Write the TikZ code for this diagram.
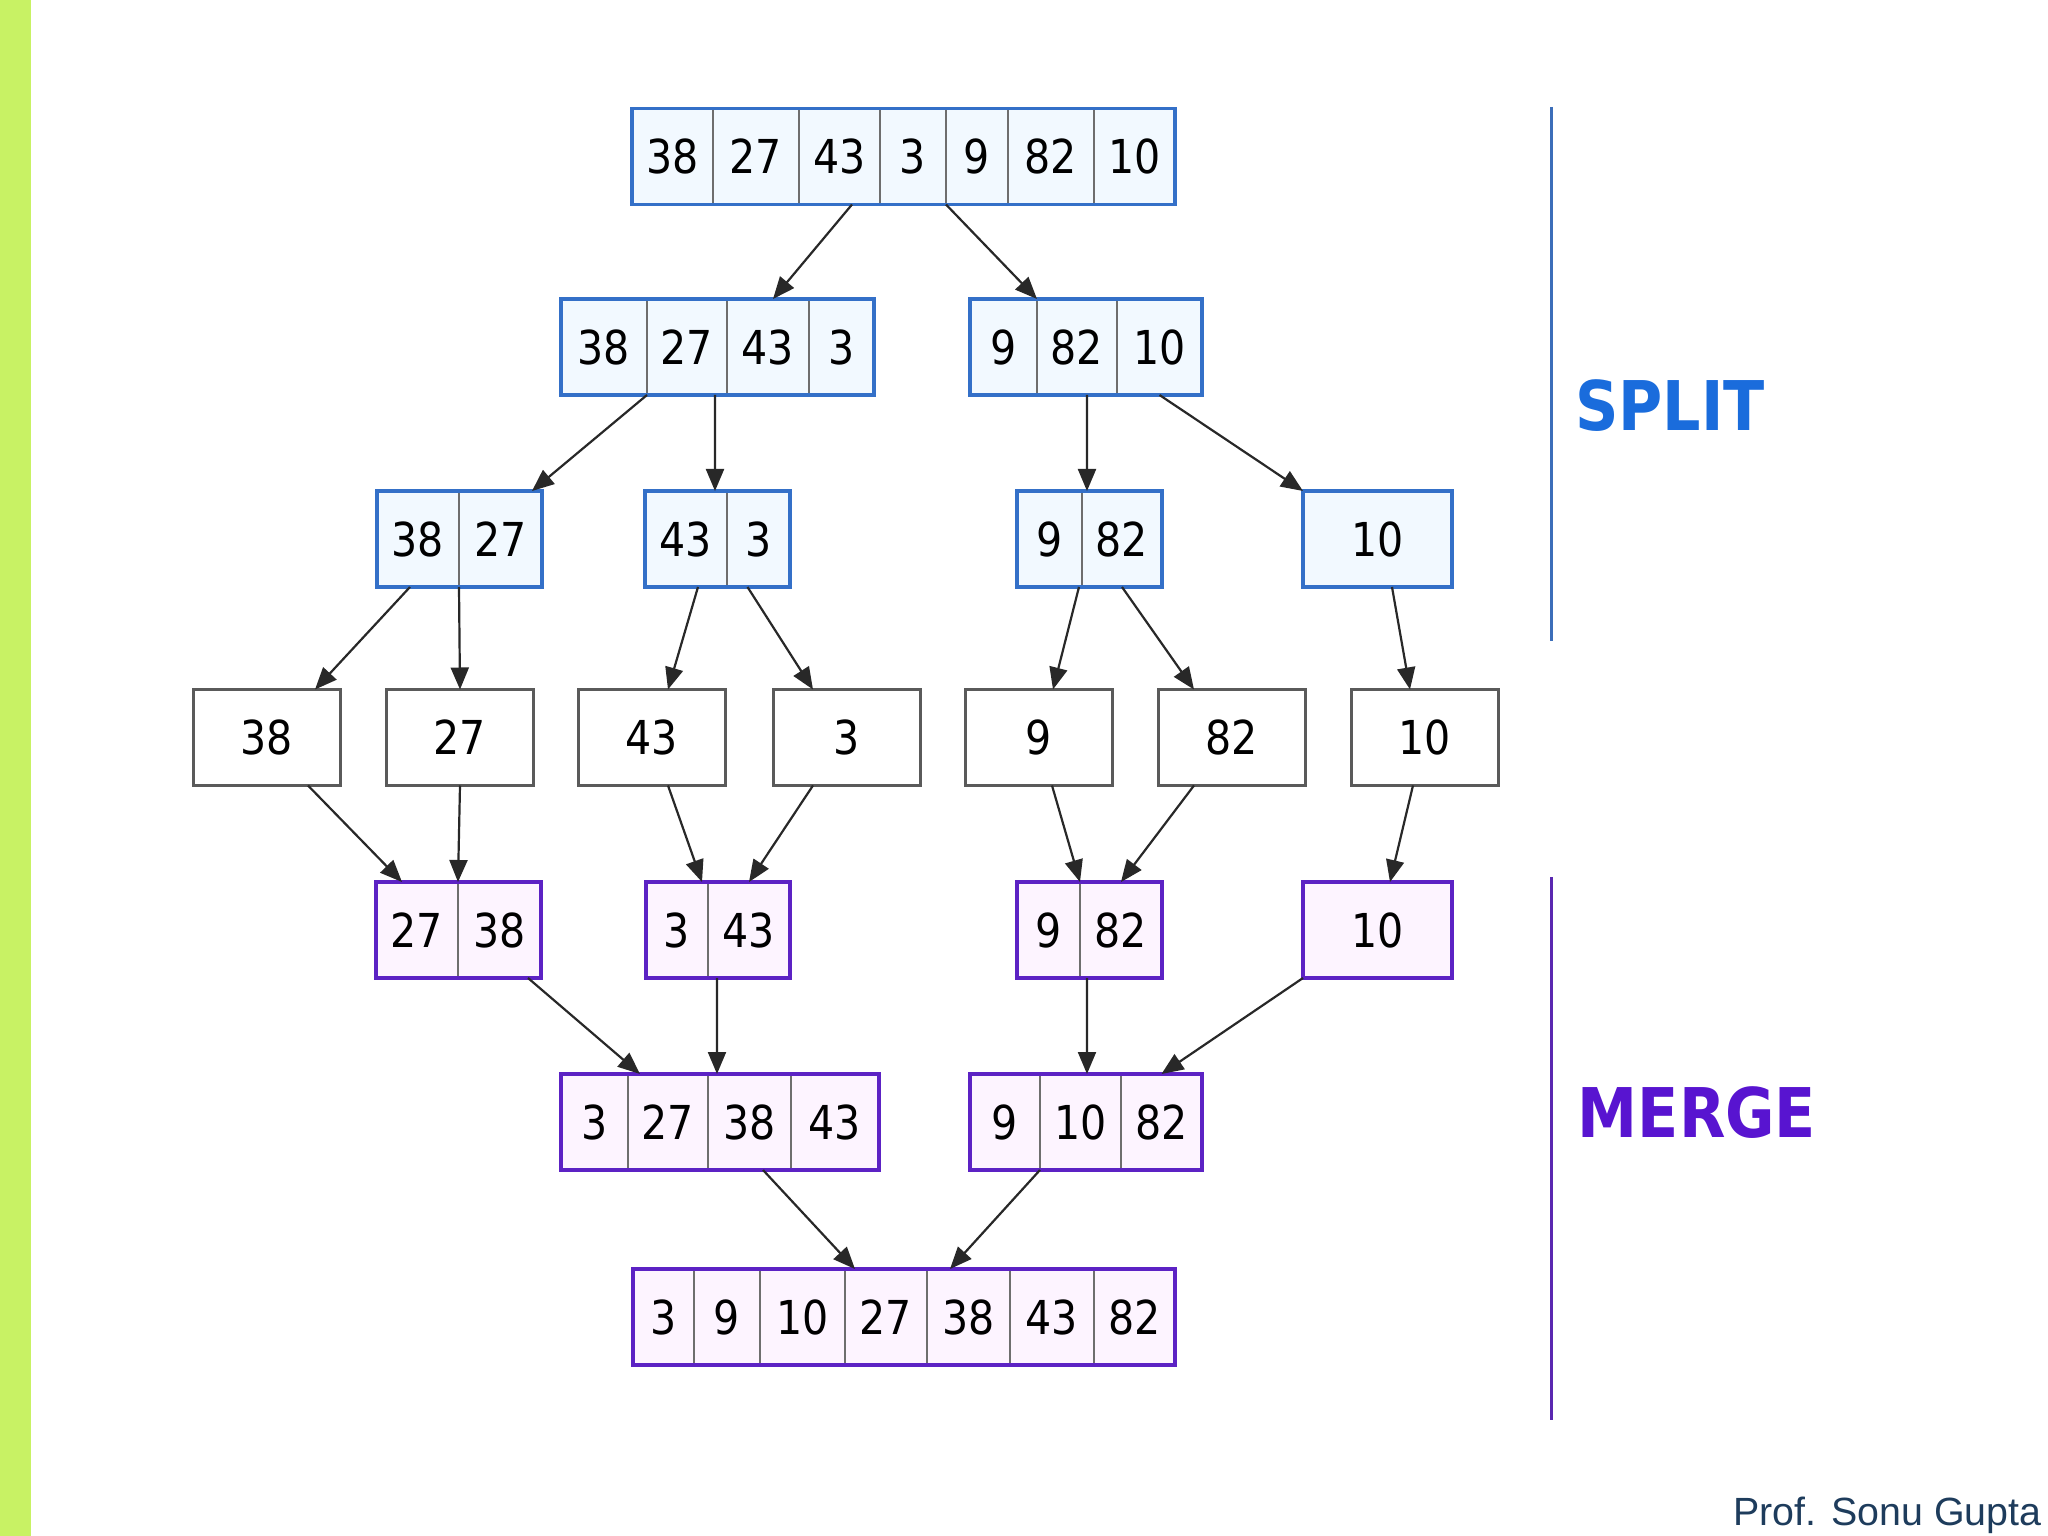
\documentclass[tikz,border=0pt]{standalone}
\usepackage{fontspec}
\usepackage{tikz}
\usetikzlibrary{positioning,arrows.meta}

\newfontfamily\cellfont{DejaVu Sans}[FakeStretch=0.88]
\newfontfamily\stagefont{DejaVu Sans}[FakeStretch=0.88]
\newfontfamily\authorfont{Liberation Sans}

\definecolor{splitblue}{RGB}{52,112,200}
\definecolor{mergepurple}{RGB}{92,34,196}
\definecolor{splitfill}{RGB}{242,249,255}
\definecolor{mergefill}{RGB}{253,244,255}
\definecolor{divgray}{RGB}{110,110,110}
\definecolor{leafgray}{RGB}{90,90,90}
\definecolor{arrowgray}{RGB}{40,40,40}
\definecolor{splittext}{RGB}{26,108,220}
\definecolor{mergetext}{RGB}{88,20,208}
\definecolor{splitline}{RGB}{60,110,185}
\definecolor{mergeline}{RGB}{90,40,176}
\definecolor{barcolor}{RGB}{200,242,100}
\definecolor{authorcolor}{RGB}{30,60,92}

\tikzset{
	cell/.style={draw=divgray, line width=0.2mm, minimum height=0.96cm, inner sep=0pt, outer sep=0pt,
		font=\cellfont\fontsize{13.3}{16}\selectfont},
	splitcell/.style={cell, fill=splitfill},
	mergecell/.style={cell, fill=mergefill},
	leafcell/.style={cell, draw=leafgray, line width=0.3mm, fill=white, minimum width=1.47cm},
	splitframe/.style={draw=splitblue, line width=0.38mm},
	mergeframe/.style={draw=mergepurple, line width=0.38mm},
	arr/.style={draw=arrowgray, line width=0.22mm, -{Triangle[length=2.2mm,width=1.8mm]}},
	stage/.style={font=\stagefont\bfseries\fontsize{19.5}{23}\selectfont},
}

\begin{document}
\begin{tikzpicture}
	\useasboundingbox (0,0) rectangle (20.48,-15.36);
	%left bar
	\fill[barcolor] (0,0) rectangle (0.31,-15.36);

	%row 1
	\node[splitcell, minimum width=0.81cm] (a38) at (6.725,-1.565) {38};
	\node[splitcell, minimum width=0.86cm, right=0pt of a38] (a27) {27};
	\node[splitcell, minimum width=0.81cm, right=0pt of a27] (a43) {43};
	\node[splitcell, minimum width=0.66cm, right=0pt of a43] (a3)  {3};
	\node[splitcell, minimum width=0.62cm, right=0pt of a3]  (a9)  {9};
	\node[splitcell, minimum width=0.86cm, right=0pt of a9]  (a82) {82};
	\node[splitcell, minimum width=0.81cm, right=0pt of a82] (a10) {10};

	%row 2
	\node[splitcell, minimum width=0.86cm] (b38) at (6.04,-3.47) {38};
	\node[splitcell, minimum width=0.80cm, right=0pt of b38] (b27) {27};
	\node[splitcell, minimum width=0.82cm, right=0pt of b27] (b43) {43};
	\node[splitcell, minimum width=0.65cm, right=0pt of b43] (b3)  {3};
	%
	\node[splitcell, minimum width=0.67cm] (b9) at (10.035,-3.47) {9};
	\node[splitcell, minimum width=0.80cm, right=0pt of b9]  (b82) {82};
	\node[splitcell, minimum width=0.85cm, right=0pt of b82] (b10) {10};

	%row 3
	\node[splitcell, minimum width=0.82cm] (c38) at (4.18,-5.39) {38};
	\node[splitcell, minimum width=0.83cm, right=0pt of c38] (c27) {27};
	%
	\node[splitcell, minimum width=0.82cm] (c43) at (6.86,-5.39) {43};
	\node[splitcell, minimum width=0.63cm, right=0pt of c43] (c3) {3};
	%
	\node[splitcell, minimum width=0.65cm] (c9) at (10.495,-5.39) {9};
	\node[splitcell, minimum width=0.80cm, right=0pt of c9] (c82) {82};
	%
	\node[splitcell, minimum width=1.49cm] (c10) at (13.775,-5.39) {10};

	%row 4
	\node[leafcell] (d38) at (2.665,-7.375)  {38};
	\node[leafcell] (d27) at (4.60,-7.375)   {27};
	\node[leafcell] (d43) at (6.515,-7.375)  {43};
	\node[leafcell] (d3)  at (8.465,-7.375)  {3};
	\node[leafcell] (d9)  at (10.385,-7.375) {9};
	\node[leafcell] (d82) at (12.315,-7.375) {82};
	\node[leafcell] (d10) at (14.25,-7.375)  {10};

	%row 5
	\node[mergecell, minimum width=0.82cm] (e27) at (4.17,-9.30) {27};
	\node[mergecell, minimum width=0.83cm, right=0pt of e27] (e38) {38};
	%
	\node[mergecell, minimum width=0.62cm] (e3) at (6.77,-9.30) {3};
	\node[mergecell, minimum width=0.82cm, right=0pt of e3] (e43) {43};
	%
	\node[mergecell, minimum width=0.63cm] (e9) at (10.485,-9.30) {9};
	\node[mergecell, minimum width=0.82cm, right=0pt of e9] (e82) {82};
	%
	\node[mergecell, minimum width=1.49cm] (e10) at (13.775,-9.30) {10};

	%row 6
	\node[mergecell, minimum width=0.67cm] (f3) at (5.945,-11.22) {3};
	\node[mergecell, minimum width=0.80cm, right=0pt of f3]  (f27) {27};
	\node[mergecell, minimum width=0.83cm, right=0pt of f27] (f38) {38};
	\node[mergecell, minimum width=0.88cm, right=0pt of f38] (f43) {43};
	%
	\node[mergecell, minimum width=0.70cm] (f9) at (10.05,-11.22) {9};
	\node[mergecell, minimum width=0.81cm, right=0pt of f9]  (f10) {10};
	\node[mergecell, minimum width=0.81cm, right=0pt of f10] (f82) {82};

	%row 7
	\node[mergecell, minimum width=0.61cm] (g3) at (6.635,-13.17) {3};
	\node[mergecell, minimum width=0.66cm, right=0pt of g3]  (g9)  {9};
	\node[mergecell, minimum width=0.85cm, right=0pt of g9]  (g10) {10};
	\node[mergecell, minimum width=0.82cm, right=0pt of g10] (g27) {27};
	\node[mergecell, minimum width=0.83cm, right=0pt of g27] (g38) {38};
	\node[mergecell, minimum width=0.84cm, right=0pt of g38] (g43) {43};
	\node[mergecell, minimum width=0.81cm, right=0pt of g43] (g82) {82};

	%frames
	\draw[splitframe] (a38.north west) rectangle (a10.south east);
	\draw[splitframe] (b38.north west) rectangle (b3.south east);
	\draw[splitframe] (b9.north west)  rectangle (b10.south east);
	\draw[splitframe] (c38.north west) rectangle (c27.south east);
	\draw[splitframe] (c43.north west) rectangle (c3.south east);
	\draw[splitframe] (c9.north west)  rectangle (c82.south east);
	\draw[splitframe] (c10.north west) rectangle (c10.south east);
	%
	\draw[mergeframe] (e27.north west) rectangle (e38.south east);
	\draw[mergeframe] (e3.north west)  rectangle (e43.south east);
	\draw[mergeframe] (e9.north west)  rectangle (e82.south east);
	\draw[mergeframe] (e10.north west) rectangle (e10.south east);
	\draw[mergeframe] (f3.north west)  rectangle (f43.south east);
	\draw[mergeframe] (f9.north west)  rectangle (f82.south east);
	\draw[mergeframe] (g3.north west)  rectangle (g82.south east);

	%split arrows
	\draw[arr] ([xshift=1.25mm]a43.south) -- ([xshift=0.5mm]b43.north);
	\draw[arr] (a9.south west) -- (b82.north west);
	%
	\draw[arr] (b27.south west) -- ([xshift=-1mm]c27.north east);
	\draw[arr] ([xshift=-1.2mm]b27.south east) -- ([xshift=-1.2mm]c43.north east);
	\draw[arr] ([xshift=1mm]b82.south) -- ([xshift=0.5mm]c82.north west);
	\draw[arr] (b10.south) -- (c10.north west);
	%
	\draw[arr] ([xshift=-0.8mm]c38.south) -- ([xshift=-2.5mm]d38.north east);
	\draw[arr] (c27.south west) -- (d27.north);
	\draw[arr] ([xshift=1.2mm]c43.south) -- ([xshift=1.65mm]d43.north);
	\draw[arr] ([xshift=-1.1mm]c3.south) -- ([xshift=4mm]d3.north west);
	\draw[arr] ([xshift=-0.3mm]c9.south east) -- ([xshift=1.45mm]d9.north);
	\draw[arr] (c82.south) -- ([xshift=3.6mm]d82.north west);
	\draw[arr] ([xshift=1.45mm]c10.south) -- ([xshift=-1.5mm]d10.north);

	%merge arrows
	\draw[arr] ([xshift=-3.2mm]d38.south east) -- ([xshift=2.6mm]e27.north west);
	\draw[arr] (d27.south) -- (e38.north west);
	\draw[arr] ([xshift=1.65mm]d43.south) -- ([xshift=-0.6mm]e3.north east);
	\draw[arr] ([xshift=4mm]d3.south west) -- (e43.north);
	\draw[arr] ([xshift=1.35mm]d9.south) -- (e9.north east);
	\draw[arr] ([xshift=3.6mm]d82.south west) -- (e82.north);
	\draw[arr] ([xshift=-1.2mm]d10.south) -- ([xshift=1.25mm]e10.north);
	%
	\draw[arr] ([xshift=-1.3mm]e38.south east) -- ([xshift=1.2mm]f27.north west);
	\draw[arr] ([xshift=0.9mm]e43.south west) -- ([xshift=0.9mm]f38.north west);
	\draw[arr] ([xshift=0.7mm]e82.south west) -- ([xshift=0.65mm]f10.north);
	\draw[arr] (e10.south west) -- (f82.north);
	%
	\draw[arr] ([xshift=1.35mm]f38.south) -- ([xshift=1mm]g27.north west);
	\draw[arr] (f9.south east) -- ([xshift=2.3mm]g38.north west);

	%stage labels
	\draw[splitline, line width=0.3mm] (15.51,-1.07) -- (15.51,-6.41);
	\draw[mergeline, line width=0.3mm] (15.51,-8.77) -- (15.51,-14.20);
	\node[stage, text=splittext] (split) at (16.70,-4.06) {SPLIT};
	\node[stage, text=mergetext] (merge) at (16.97,-11.13) {MERGE};

	%author
	\node[anchor=base east, inner sep=0pt, text=authorcolor, font=\authorfont\fontsize{11.2}{13}\selectfont] (author) at (20.42,-15.25) {Prof. Sonu Gupta};
\end{tikzpicture}
\end{document}
